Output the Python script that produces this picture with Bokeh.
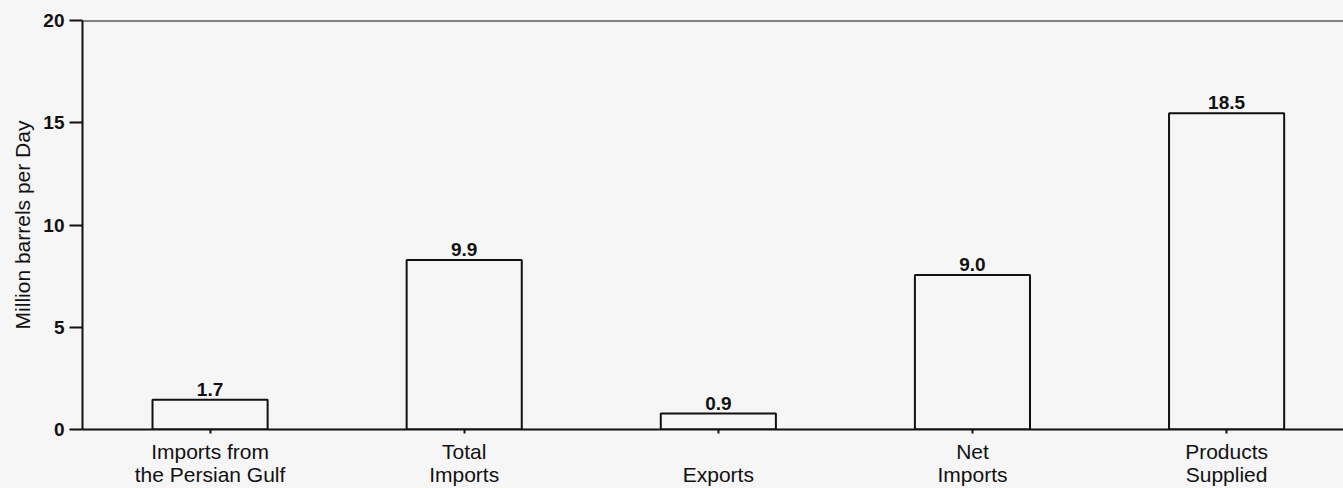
from bokeh.plotting import figure
from bokeh.models import (ColumnDataSource, Range1d, FixedTicker, LabelSet, Span)
from bokeh.core.properties import value
from bokeh.embed import file_html
from bokeh.resources import INLINE

categories = ["Imports from\nthe Persian Gulf", "Total\nImports", "\nExports", "Net\nImports", "Products\nSupplied"]
bar_heights = [1.46, 8.29, 0.78, 7.56, 15.46]
value_labels = ["1.7", "9.9", "0.9", "9.0", "18.5"]
y_ticks = [0, 5, 10, 15, 20]

BG = "#f6f6f6"
FONT = "Liberation Sans"

xs = list(range(len(categories)))
src = ColumnDataSource(dict(x=xs, top=bar_heights, vlab=value_labels))

p = figure(width=1343, height=488, output_backend="svg", toolbar_location=None,
           x_range=Range1d(-0.502, 4.46), y_range=Range1d(0, 20),
           min_border_left=82, min_border_top=20, min_border_bottom=58, min_border_right=0)
p.background_fill_color = BG
p.border_fill_color = BG
p.outline_line_color = None
p.xgrid.visible = False
p.ygrid.visible = False

p.vbar(x="x", top="top", bottom=0, width=0.453, source=src,
       fill_color=BG, line_color="#111111", line_width=2)

# Y axis
ya = p.yaxis[0]
ya.ticker = FixedTicker(ticks=y_ticks)
ya.axis_line_width = 2
ya.axis_line_color = "#111111"
ya.major_tick_line_width = 2
ya.major_tick_line_color = "#111111"
ya.major_tick_out = 13
ya.major_tick_in = 0
ya.minor_tick_line_color = None
ya.major_label_standoff = 5
ya.major_label_text_font = FONT
ya.major_label_text_font_style = "bold"
ya.major_label_text_font_size = "19px"
ya.major_label_text_color = "#111111"
ya.axis_label = "Million barrels per Day"
ya.axis_label_text_font = FONT
ya.axis_label_text_font_style = "normal"
ya.axis_label_text_font_size = "21px"
ya.axis_label_text_color = "#111111"
ya.axis_label_standoff = 6

# X axis with category labels
xa = p.xaxis[0]
xa.ticker = FixedTicker(ticks=xs)
xa.major_label_overrides = {i: c for i, c in zip(xs, categories)}
xa.axis_line_width = 2
xa.axis_line_color = "#111111"
xa.major_tick_line_width = 2
xa.major_tick_line_color = "#111111"
xa.major_tick_out = 4
xa.major_tick_in = 0
xa.minor_tick_line_color = None
xa.major_label_standoff = 6
xa.major_label_text_font = FONT
xa.major_label_text_font_size = "21px"
xa.major_label_text_line_height = 1.0
xa.major_label_text_color = "#111111"

# top frame line
p.add_layout(Span(location=20, dimension="width", line_color="#111111", line_width=2))

# value labels above bars
p.add_layout(LabelSet(x="x", y="top", text="vlab", source=src, y_offset=4,
                      text_align="center", text_baseline="bottom",
                      text_font=value(FONT), text_font_style="bold",
                      text_font_size="19px", text_color="#111111"))

html = file_html(p, INLINE)
html = html.replace("<head>", "<head><style>body{background:%s}</style>" % BG, 1)
open("out.html", "w").write(html)
